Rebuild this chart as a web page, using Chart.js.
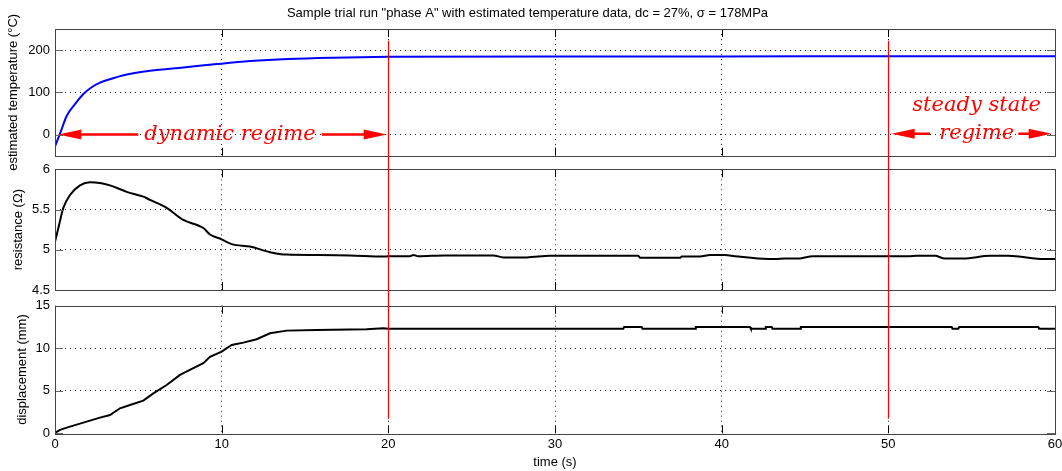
<!DOCTYPE html>
<html>
<head>
<meta charset="utf-8">
<title>phase A trial</title>
<script src="https://cdn.jsdelivr.net/npm/chart.js@4.4.1/dist/chart.umd.min.js"></script>
<style>
  html, body { margin: 0; padding: 0; background: #fff; }
  #wrap { position: relative; width: 1062px; height: 471px; }
  #wrap canvas { position: absolute; left: 0; top: 0; }
</style>
</head>
<body>
<div id="wrap">
  <canvas id="tempChart" width="1062" height="471"></canvas>
  <canvas id="resChart" width="1062" height="471"></canvas>
  <canvas id="dispChart" width="1062" height="471"></canvas>
</div>
<script>
// ---------- Data ----------
const timeTicks = [0, 10, 20, 30, 40, 50, 60];
const tempTicks = [0, 100, 200];
const resTicks = [4.5, 5, 5.5, 6];
const dispTicks = [0, 5, 10, 15];
const regimeBounds = [20, 50];

const tempTime   = [0, 0.3, 0.7, 1.2, 1.7, 2.2, 2.7, 3.7, 4.7, 5.7, 7.7, 9.7, 11.7, 14, 16.7, 20, 30, 40, 50, 60];
const tempValues = [-28, 2, 44, 72, 96, 112, 123, 136, 145, 151, 159, 167, 174, 179, 182, 184, 185, 185, 185.5, 185.5];

const resTime = [0, 0.2, 0.5, 0.9, 1.5, 2.1, 2.7, 3.3, 4.3, 5.3, 5.7, 6.7, 7.7, 8.9, 9.3, 10, 10.6, 11.7, 12.9, 13.9, 15.7, 17.7, 19.7,
  20, 21.3, 21.5, 21.8, 23.4, 26.3, 26.9, 28.3, 29.7, 31.4, 33.8, 35, 35.1, 37.5, 37.6, 38.7, 39.3, 40.2, 40.8, 42.8, 43.2,
  43.8, 44.5, 45.5, 47.6, 49.6, 51.2, 51.7, 52.8, 53.4, 54.5, 56.1, 57.2, 59.4, 60];
const resValues = [5.10, 5.27, 5.52, 5.68, 5.80, 5.84, 5.83, 5.80, 5.72, 5.66, 5.62, 5.52, 5.37, 5.27, 5.19, 5.13, 5.07, 5.04, 4.97, 4.94, 4.935, 4.93, 4.915,
  4.92, 4.92, 4.935, 4.92, 4.93, 4.93, 4.905, 4.905, 4.925, 4.925, 4.925, 4.925, 4.90, 4.90, 4.915, 4.915, 4.935, 4.935, 4.92, 4.885, 4.885,
  4.89, 4.89, 4.92, 4.92, 4.92, 4.92, 4.925, 4.925, 4.89, 4.89, 4.925, 4.925, 4.885, 4.885];

const dispTime = [0, 0.3, 0.9, 1.7, 2.7, 3.3, 3.9, 4.5, 5.3, 5.9, 6.7, 7.5, 8.3, 8.9, 9.3, 10, 10.6, 11.3, 12.1, 12.9, 13.9, 15.7, 18.7, 19.7, 20,
  34.1, 34.15, 35.2, 35.25, 38.4, 38.45, 41.7, 41.75, 42.6, 42.65, 43, 43.05, 44.7, 44.75, 53.8, 53.85, 54.2, 54.25, 59, 59.05, 60];
const dispValues = [0.05, 0.4, 0.78, 1.25, 1.84, 2.15, 2.94, 3.33, 3.84, 4.7, 5.68, 6.86, 7.65, 8.24, 9.0, 9.6, 10.39, 10.66, 11.06, 11.76, 12.07, 12.15, 12.24, 12.35, 12.28,
  12.28, 12.5, 12.5, 12.3, 12.3, 12.5, 12.5, 12.3, 12.3, 12.5, 12.5, 12.3, 12.3, 12.5, 12.5, 12.3, 12.3, 12.5, 12.5, 12.3, 12.3];

// ---------- Defaults ----------
Chart.defaults.font.family = '"Liberation Sans", Arial, sans-serif';
Chart.defaults.font.size = 13;
Chart.defaults.color = '#000';
Chart.defaults.animation = false;

const pairs = (xs, ys) => xs.map((x, i) => ({ x, y: ys[i] }));

// MATLAB-like box with inward tick marks
const framePlugin = {
  id: 'frame',
  afterDraw(chart) {
    const { ctx, chartArea: a, scales } = chart;
    ctx.save();
    ctx.setLineDash([]);
    ctx.lineWidth = 1;
    ctx.strokeStyle = '#000';
    scales.x.ticks.forEach(t => {
      const px = Math.round(scales.x.getPixelForValue(t.value)) + 0.5;
      ctx.beginPath();
      ctx.moveTo(px, a.top); ctx.lineTo(px, a.top + 8);
      ctx.moveTo(px, a.bottom); ctx.lineTo(px, a.bottom - 8);
      ctx.stroke();
    });
    ctx.strokeStyle = '#666';
    scales.y.ticks.forEach(t => {
      const py = Math.round(scales.y.getPixelForValue(t.value)) + 0.5;
      ctx.beginPath();
      ctx.moveTo(a.left, py); ctx.lineTo(a.left + 8, py);
      ctx.moveTo(a.right, py); ctx.lineTo(a.right - 8, py);
      ctx.stroke();
    });
    ctx.strokeStyle = '#444';
    ctx.strokeRect(Math.round(a.left) + 0.5, Math.round(a.top) + 0.5,
      Math.round(a.right - a.left), Math.round(a.bottom - a.top));
    ctx.restore();
  }
};

function arrow(ctx, x1, x2, y) {
  // line from x1 to tip x2
  const dir = Math.sign(x2 - x1);
  ctx.beginPath();
  ctx.moveTo(x1, y);
  ctx.lineTo(x2 - dir * 18, y);
  ctx.stroke();
  ctx.beginPath();
  ctx.moveTo(x2, y);
  ctx.lineTo(x2 - dir * 23, y - 5);
  ctx.lineTo(x2 - dir * 23, y + 5);
  ctx.closePath();
  ctx.fill();
}

// regime labels on the temperature panel
const regimePlugin = {
  id: 'regimes',
  afterDraw(chart) {
    const { ctx, scales: { x, y } } = chart;
    ctx.save();
    ctx.setLineDash([]);
    ctx.fillStyle = '#ff0000';
    ctx.strokeStyle = '#ff0000';
    ctx.lineWidth = 2.5;
    ctx.font = 'italic 21px "DejaVu Serif", serif';
    ctx.textAlign = 'center';
    ctx.textBaseline = 'middle';
    const y0 = y.getPixelForValue(0);
    arrow(ctx, x.getPixelForValue(5), x.getPixelForValue(0.2), y0);
    ctx.fillText('dynamic regime', x.getPixelForValue(10.5), y0);
    arrow(ctx, x.getPixelForValue(16), x.getPixelForValue(19.9), y0);

    const y1 = y.getPixelForValue(69);
    const y2 = y.getPixelForValue(2);
    ctx.fillText('steady state', x.getPixelForValue(55.3), y1);
    arrow(ctx, x.getPixelForValue(52.5), x.getPixelForValue(50.2), y2);
    ctx.fillText('regime', x.getPixelForValue(55.3), y2);
    arrow(ctx, x.getPixelForValue(57.8), x.getPixelForValue(59.8), y2);
    ctx.restore();
  }
};

// no dotted grid line on top of the box edges
const gridColor = (min, max) => c => (c.tick && (c.tick.value === min || c.tick.value === max)) ? 'rgba(0,0,0,0)' : '#222';

function xScale(showLabels) {
  return {
    type: 'linear',
    min: 0,
    max: 60,
    afterBuildTicks: s => { s.ticks = timeTicks.map(v => ({ value: v })); },
    grid: { color: gridColor(0, 60), lineWidth: 1, drawTicks: false },
    border: { display: false, dash: [1, 4] },
    ticks: { display: showLabels, padding: 3, maxRotation: 0 },
    title: { display: showLabels, text: 'time (s)', padding: { top: 0, bottom: 1 } },
    afterFit: s => {
      s.height = showLabels ? 37.7 : 0;
      s.paddingLeft = 0; s.paddingRight = 0;
    }
  };
}

function yScale(min, max, ticks, label, titlePad) {
  return {
    type: 'linear',
    min,
    max,
    afterBuildTicks: s => { s.ticks = ticks.map(v => ({ value: v })); },
    grid: { color: gridColor(min, max), lineWidth: 1, drawTicks: false },
    border: { display: false, dash: [1, 4] },
    ticks: { padding: 5, callback: v => String(v) },
    title: { display: true, text: label, padding: { top: titlePad, bottom: 0 } },
    afterFit: s => {
      s.width = 55;
      s.paddingTop = 0; s.paddingBottom = 0;
    }
  };
}

function makeChart(id, opts) {
  return new Chart(document.getElementById(id), {
    type: 'line',
    data: {
      datasets: [{
        data: pairs(opts.xs, opts.ys),
        borderColor: opts.color,
        borderWidth: 2,
        pointRadius: 0,
        cubicInterpolationMode: opts.smooth ? 'monotone' : 'default',
        tension: 0,
        fill: false
      }]
    },
    options: {
      responsive: false,
      layout: { padding: opts.padding },
      plugins: {
        legend: { display: false },
        tooltip: { enabled: false },
        title: opts.title || { display: false }
      },
      scales: {
        x: xScale(opts.xLabels),
        y: yScale(opts.min, opts.max, opts.ticks, opts.label, opts.titlePad)
      }
    },
    plugins: [framePlugin].concat(opts.plugins || [])
  });
}

const tempChart = makeChart('tempChart', {
  xs: tempTime, ys: tempValues, color: '#0000ff', smooth: true,
  min: -50, max: 250, ticks: tempTicks,
  label: 'estimated temperature (°C)', titlePad: 6,
  xLabels: false,
  padding: { top: 0, bottom: 315.3, left: 0, right: 7 },
  title: {
    display: true,
    text: 'Sample trial run "phase A" with estimated temperature data, dc = 27%, σ = 178MPa',
    font: { size: 13, weight: 'normal' },
    padding: { top: 6, bottom: 7.4 }
  },
  plugins: [regimePlugin]
});

const resChart = makeChart('resChart', {
  xs: resTime, ys: resValues, color: '#000', smooth: true,
  min: 4.5, max: 6, ticks: resTicks,
  label: 'resistance (Ω)', titlePad: 11,
  xLabels: false,
  padding: { top: 169.3, bottom: 181, left: 0, right: 7 }
});

// red boundary lines run through all three panels
const boundaryPlugin = {
  id: 'boundaries',
  afterDraw(chart) {
    const { ctx, scales: { x, y } } = chart;
    const top = tempChart.scales.y.getPixelForValue(222);
    const bottom = y.getPixelForValue(1.7);
    ctx.save();
    ctx.setLineDash([]);
    ctx.strokeStyle = '#ff0000';
    ctx.lineWidth = 1.2;
    regimeBounds.forEach(t => {
      const px = Math.round(x.getPixelForValue(t)) + 0.5;
      ctx.beginPath();
      ctx.moveTo(px, top);
      ctx.lineTo(px, bottom);
      ctx.stroke();
    });
    ctx.restore();
  }
};

const dispChart = makeChart('dispChart', {
  xs: dispTime, ys: dispValues, color: '#000', smooth: false,
  min: 0, max: 15, ticks: dispTicks,
  label: 'displacement (mm)', titlePad: 15,
  xLabels: true,
  padding: { top: 305.7, bottom: 0, left: 0, right: 7 },
  plugins: [boundaryPlugin]
});
</script>
</body>
</html>
